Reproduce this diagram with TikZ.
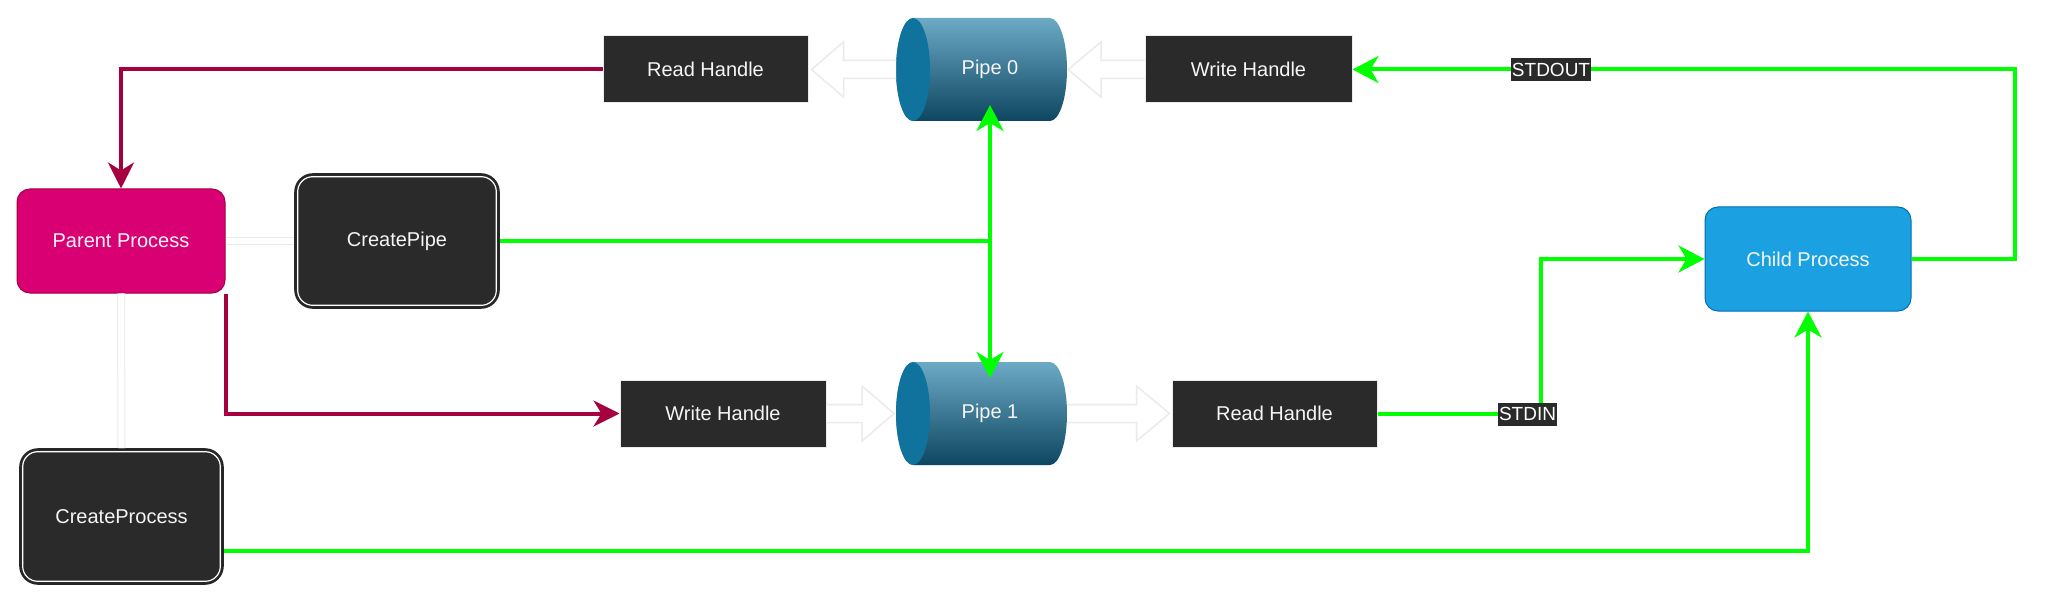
\documentclass[tikz,border=0pt]{standalone}
\usepackage{fontspec}
\setmainfont{Liberation Sans}
\usetikzlibrary{arrows.meta,calc}
\definecolor{darkbox}{HTML}{2A2A2A}
\definecolor{lightline}{HTML}{EBEBEB}
\definecolor{parentfill}{HTML}{D80073}
\definecolor{parentline}{HTML}{A50040}
\definecolor{childfill}{HTML}{1BA1E2}
\definecolor{childline}{HTML}{006EAF}
\definecolor{gr}{HTML}{00FF00}
\definecolor{pipetop}{HTML}{6CAAC5}
\definecolor{pipebot}{HTML}{0D4661}
\definecolor{pipecap}{HTML}{10739E}
\definecolor{txt}{HTML}{F5F5F5}
\newcommand{\drawpipe}[1]{%
  \shade[top color=pipetop, bottom color=pipebot]
    ($(#1.north west)+(17,0)$) -- ($(#1.north east)+(-17,0)$)
    arc[start angle=90,end angle=-90,x radius=8.5pt,y radius=25.75pt]
    -- ($(#1.south west)+(17,0)$)
    arc[start angle=270,end angle=90,x radius=8.5pt,y radius=25.75pt] -- cycle;
  \fill[pipecap] ($(#1.west)+(17,0)$) ellipse[x radius=8.5pt, y radius=25.75pt];
}
\newcommand{\hollowarrow}[3]{%
  \draw[blockarrow] ($(#1)+(0,-9)$) -- ($(#2)+(#3,-9)$) -- ($(#2)+(#3,-27.5)$) -- (#2)
    -- ($(#2)+(#3,27.5)$) -- ($(#2)+(#3,9)$) -- ($(#1)+(0,9)$);
}
\newcommand{\apiinner}[1]{%
  \draw[white, line width=0.6pt, rounded corners=7.5pt]
    ($(#1.north west)+(3.5,3.5)$) rectangle ($(#1.south east)+(-3.5,-3.5)$);
}
\begin{document}
\begin{tikzpicture}[x=0.5pt,y=-0.5pt,
  every node/.style={font=\fontsize{10pt}{12pt}\selectfont, text=txt, inner sep=0pt},
  handle/.style={draw=lightline, line width=0.5pt, fill=darkbox, minimum width=102.5pt, minimum height=33.5pt},
  proc/.style={rounded corners=6.5pt, line width=0.5pt, minimum width=104pt, minimum height=52pt},
  api/.style={draw=black!85, line width=0.8pt, fill=darkbox, rounded corners=9pt, minimum width=102pt, minimum height=67pt},
  pipebox/.style={minimum width=85.5pt, minimum height=51.5pt, outer sep=0pt},
  redwire/.style={draw=parentline, line width=2pt, -{Stealth[length=13pt,width=13pt,inset=4pt]}},
  greenwire/.style={draw=gr, line width=2pt, -{Stealth[length=13pt,width=13.5pt,inset=4pt]}},
  blockarrow/.style={draw=lightline, fill=white, line width=0.75pt, line join=miter},
  faint/.style={draw=lightline, double=white, double distance=3pt, line width=0.5pt},
  wirelabel/.style={fill=darkbox, font=\fontsize{9.5pt}{11pt}\selectfont, text=white, inner xsep=0.3pt, minimum height=11.5pt},
]
\useasboundingbox[fill=white] (0,0) rectangle (2048,604);

% nodes
\node[proc, fill=parentfill, draw=parentline] (parent) at (121,241) {Parent Process};
\node[api] (cpipe) at (397,241) {CreatePipe};
\apiinner{cpipe}
\node[api, minimum width=101.5pt, minimum height=67.5pt] (cproc) at (121.5,516.5) {CreateProcess};
\apiinner{cproc}
\node[handle] (rh0) at (705.5,69.5) {Read Handle};
\node[handle, minimum width=103.5pt] (wh0) at (1248.5,69.5) {Write Handle};
\node[handle, minimum width=103pt] (wh1) at (723,413.5) {Write Handle};
\node[handle] (rh1) at (1274.5,413.5) {Read Handle};
\node[proc, fill=childfill, draw=childline, minimum width=103pt] (child) at (1808,259) {Child Process};

% pipes
\node[pipebox] (pipe0) at (981.5,69.5) {};
\drawpipe{pipe0}
\node (pipe0lbl) at ($(pipe0.center)+(8.5,0)$) {Pipe 0};
\node[pipebox] (pipe1) at (981.5,413.5) {};
\drawpipe{pipe1}
\node (pipe1lbl) at ($(pipe1.center)+(8.5,0)$) {Pipe 1};

% faint links
\draw[faint] (parent.east) -- (cpipe.west);
\draw[faint] (parent.south) -- (cproc.north);

% hollow block arrows
\coordinate (a0tip) at ($(rh0.east)+(3,0)$);
\hollowarrow{pipe0.west}{a0tip}{32}
\coordinate (a1tip) at ($(pipe0.east)+(1,0)$);
\hollowarrow{wh0.west}{a1tip}{33}
\coordinate (a2tip) at ($(pipe1.west)+(-2,0)$);
\hollowarrow{wh1.east}{a2tip}{-32}
\coordinate (a3tip) at ($(rh1.west)+(-2,0)$);
\hollowarrow{pipe1.east}{a3tip}{-33}

% red wires
\draw[redwire] (rh0.west) -| (parent.north);
\draw[redwire] (parent.south east) |- (wh1.west);

% green wires
\coordinate (jn) at (pipe0lbl |- cpipe.east);
\coordinate (p0in) at ($(pipe0.south)+(8.5,-16)$);
\coordinate (p1in) at ($(pipe1.north)+(8.5,16)$);
\draw[greenwire] (cpipe.east) -- (jn) -- (p0in);
\draw[greenwire] (cpipe.east) -- (jn) -- (p1in);
\coordinate (cpout) at ($(cproc.east)+(0,34.5)$);
\draw[greenwire] (cpout) -| (child.south);
\draw[greenwire] (child.east) -- ++(103,0) |- (wh0.east);
\draw[greenwire] (rh1.east) -- ++(163,0) |- (child.west);

% labels
\node[wirelabel] (stdout) at (1551,69.5) {STDOUT};
\node[wirelabel] (stdin) at (1527.5,414) {STDIN};
\end{tikzpicture}
\end{document}
